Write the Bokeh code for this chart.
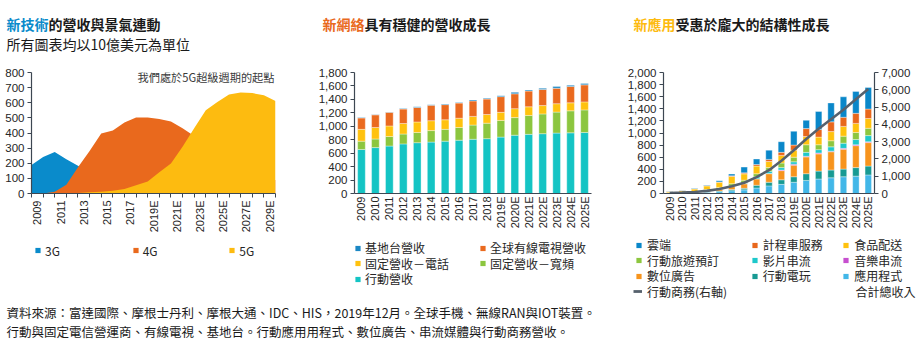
import math
from bokeh.plotting import figure
from bokeh.models import (Range1d, LinearAxis, FixedTicker, Label, Legend, LegendItem,
                          ColumnDataSource, FactorRange, NumeralTickFormatter)
from bokeh.layouts import column, row
from bokeh.embed import file_html
from bokeh.resources import INLINE

CJK = "Noto Sans CJK TC"
NUM = "Liberation Sans"
AXIS_C = "#3d4752"
TXT_C = "#262626"

# ---------------- data: left chart (technology cycles) ----------------
tech_years = list(range(2009, 2030))
tech_tick_years = tech_years[::2]
tech_tick_labels = {y: (str(y) + ("E" if y >= 2019 else "")) for y in tech_tick_years}
# values at the category boundaries (area vertices)
tech_edges = [y - 0.5 for y in tech_years] + [tech_years[-1] + 0.5]
rev_3g = [188, 242, 275, 227, 184, 140, 100, 70, 50, 30, 20, 10, 5, 0, 0, 0, 0, 0, 0, 0, 0, 0]
rev_4g = [0, 0, 11, 58, 173, 281, 396, 417, 469, 502, 502, 493, 476, 432, 380, 320, 260, 210, 170, 140, 110, 90]
rev_5g = [0, 0, 0, 2, 4, 8, 12, 18, 30, 54, 80, 141, 199, 309, 432, 551, 605, 655, 668, 664, 649, 612]

# ---------------- data: middle chart (networks) ----------------
net_years = ["2009", "2010", "2011", "2012", "2013", "2014", "2015", "2016", "2017", "2018",
             "2019E", "2020E", "2021E", "2022E", "2023E", "2024E", "2025E"]
net_mobile = [655, 683, 706, 738, 756, 765, 779, 793, 807, 816, 839, 867, 880, 890, 899, 903, 908]
net_broadband = [124, 128, 142, 147, 152, 171, 175, 189, 211, 230, 248, 262, 281, 294, 312, 327, 336]
net_phone = [175, 171, 157, 156, 156, 147, 143, 138, 129, 129, 120, 133, 129, 124, 125, 119, 119]
net_cable = [170, 188, 202, 216, 216, 230, 225, 225, 230, 230, 234, 221, 234, 239, 229, 244, 253]
net_tower = [6, 6, 6, 6, 12, 8, 8, 10, 14, 12, 14, 22, 14, 18, 25, 18, 22]

# ---------------- data: right chart (applications) ----------------
app_years = net_years
app_apps = [5, 8, 12, 20, 30, 45, 60, 91, 126, 151, 186, 216, 240, 260, 277, 287, 307]
app_games = [2, 3, 5, 8, 12, 20, 26, 45, 60, 76, 91, 111, 130, 128, 126, 141, 146]
app_ads = [5, 8, 12, 20, 30, 50, 75, 106, 141, 151, 192, 278, 285, 302, 328, 363, 388]
app_music = [0, 0, 0, 1, 1, 2, 3, 3, 4, 10, 15, 10, 15, 10, 15, 15, 15]
app_video = [0, 0, 1, 2, 3, 5, 5, 32, 37, 40, 40, 65, 55, 71, 86, 86, 101]
app_travel = [2, 3, 5, 15, 25, 40, 51, 50, 60, 76, 76, 126, 81, 101, 116, 116, 121]
app_food = [20, 25, 40, 60, 85, 120, 105, 126, 101, 126, 115, 136, 126, 151, 161, 151, 161]
app_taxi = [3, 4, 5, 5, 6, 10, 16, 26, 35, 50, 86, 131, 126, 161, 151, 166, 157]
app_cloud = [3, 4, 5, 10, 20, 30, 95, 91, 152, 176, 227, 136, 298, 313, 338, 363, 358]
app_commerce = [30, 50, 90, 150, 260, 420, 620, 950, 1350, 1900, 2500, 3150, 3750, 4300, 4850, 5450, 6050]

C3G, C4G, C5G = "#0a8bcb", "#e9691d", "#fdbb10"
net_colors = ["#14c4c4", "#8cc63f", "#ffc20e", "#ea6a1f", "#1b87c4"]
app_colors = ["#42b7e8", "#179a93", "#f7941d", "#c74fcf", "#1ec8cb", "#8dc63f", "#ffc20e",
              "#e8671c", "#0a87c9"]
LINE_C = "#56616d"

HEAD_H = 56         # header strip height
CHART_BOTTOM = 235  # page y where chart figures end
PAGE_H = 354


def style_axis(ax, size="11.5px", tick_out=4):
    ax.axis_line_color = AXIS_C
    ax.axis_line_width = 1.2
    ax.major_tick_line_color = AXIS_C
    ax.major_tick_in = 0
    ax.major_tick_out = tick_out
    ax.minor_tick_line_color = None
    ax.major_label_text_font = NUM
    ax.major_label_text_font_size = size
    ax.major_label_text_color = TXT_C
    ax.major_label_standoff = 3


def chart_fig(width, x_range, y_range, bl, br, frame_top, frame_bottom):
    p = figure(width=width, height=CHART_BOTTOM - HEAD_H, x_range=x_range, y_range=y_range,
               output_backend="svg", toolbar_location=None, title=None,
               min_border_left=bl, min_border_right=br,
               min_border_top=frame_top - HEAD_H, min_border_bottom=CHART_BOTTOM - frame_bottom)
    p.outline_line_color = None
    p.grid.visible = False
    return p


def blank_fig(width, height):
    p = figure(width=width, height=height, x_range=Range1d(0, 1), y_range=Range1d(0, 1),
               x_axis_type=None, y_axis_type=None, output_backend="svg",
               toolbar_location=None, title=None, min_border=0)
    p.outline_line_color = None
    return p


# ================= header (titles) =================
ph = blank_fig(920, HEAD_H)


def add_title(px, colored, rest, color, yc=23, size=14):
    ph.add_layout(Label(x=px, y=HEAD_H - yc, x_units="screen", y_units="screen", text=colored,
                        text_font=CJK, text_font_size=f"{size}px", text_font_style="bold",
                        text_color=color, text_baseline="middle"))
    ph.add_layout(Label(x=px + size * len(colored), y=HEAD_H - yc, x_units="screen",
                        y_units="screen", text=rest, text_font=CJK, text_font_size=f"{size}px",
                        text_font_style="bold", text_color="#1a1a1a", text_baseline="middle"))


add_title(6, "新技術", "的營收與景氣連動", C3G)
add_title(322, "新網絡", "具有穩健的營收成長", C4G)
add_title(633, "新應用", "受惠於龐大的結構性成長", C5G)
ph.add_layout(Label(x=6, y=HEAD_H - 43.5, x_units="screen", y_units="screen",
                    text="所有圖表均以10億美元為單位", text_font=CJK, text_font_size="14px",
                    text_color="#1a1a1a", text_baseline="middle"))

# ================= left chart =================
FB1 = 196
p1 = chart_fig(310, Range1d(2008.5, 2029.5), Range1d(0, 800), 31, 35, 72, FB1)
p1.varea(x=tech_edges, y1=0, y2=rev_3g, fill_color=C3G)
p1.varea(x=tech_edges, y1=0, y2=rev_4g, fill_color=C4G)
p1.varea(x=tech_edges, y1=0, y2=rev_5g, fill_color=C5G)
p1.yaxis.ticker = FixedTicker(ticks=list(range(0, 801, 100)))
p1.xaxis.ticker = FixedTicker(ticks=tech_tick_years, minor_ticks=tech_edges)
p1.xaxis.major_label_overrides = tech_tick_labels
style_axis(p1.yaxis[0])
style_axis(p1.xaxis[0], size="11px", tick_out=0)
p1.xaxis.minor_tick_line_color = AXIS_C
p1.xaxis.minor_tick_in = 0
p1.xaxis.minor_tick_out = 4
p1.xaxis.major_label_orientation = math.pi / 2
p1.add_layout(Label(x=137 - 31, y=FB1 - 79.5, x_units="screen", y_units="screen",
                    text="我們處於5G超級週期的起點", text_font=CJK, text_font_size="11.2px",
                    text_color="#3a3a3a", text_baseline="middle"))

# ================= middle chart =================
FB2 = 196
net_src = ColumnDataSource(dict(year=net_years, mobile=net_mobile, broadband=net_broadband,
                                phone=net_phone, cable=net_cable, tower=net_tower))
net_keys = ["mobile", "broadband", "phone", "cable", "tower"]
p2 = chart_fig(310, FactorRange(factors=net_years), Range1d(0, 1800), 44, 29, 63, FB2)
p2.vbar_stack(net_keys, x="year", width=0.55, color=net_colors, source=net_src,
              line_color="white", line_alpha=0.45, line_width=0.8)
p2.yaxis.ticker = FixedTicker(ticks=list(range(0, 1801, 200)))
p2.yaxis.formatter = NumeralTickFormatter(format="0,0")
style_axis(p2.yaxis[0])
style_axis(p2.xaxis[0], size="11px", tick_out=0)
p2.xaxis.major_label_overrides = {y: " " for y in net_years[1::2]}
p2.xaxis.major_label_orientation = math.pi / 2

# ================= right chart =================
FB3 = 195
app_src = ColumnDataSource(dict(year=app_years, apps=app_apps, games=app_games, ads=app_ads,
                                music=app_music, video=app_video, travel=app_travel,
                                food=app_food, taxi=app_taxi, cloud=app_cloud,
                                commerce=app_commerce))
app_keys = ["apps", "games", "ads", "music", "video", "travel", "food", "taxi", "cloud"]
p3 = chart_fig(300, FactorRange(factors=app_years), Range1d(0, 2000), 43, 46, 63, FB3)
p3.extra_y_ranges = {"r": Range1d(0, 7000)}
p3.vbar_stack(app_keys, x="year", width=0.52, color=app_colors, source=app_src,
              line_color="white", line_alpha=0.45, line_width=0.8)
p3.line(x="year", y="commerce", source=app_src, y_range_name="r",
        line_color=LINE_C, line_width=2.6)
p3.yaxis.ticker = FixedTicker(ticks=list(range(0, 2001, 200)))
p3.yaxis.formatter = NumeralTickFormatter(format="0,0")
style_axis(p3.yaxis[0])
ax_r = LinearAxis(y_range_name="r", ticker=FixedTicker(ticks=list(range(0, 7001, 1000))),
                  formatter=NumeralTickFormatter(format="0,0"))
style_axis(ax_r)
p3.add_layout(ax_r, "right")
style_axis(p3.xaxis[0], size="11px", tick_out=0)
p3.xaxis.major_label_overrides = {y: " " for y in app_years[1::2]}
p3.xaxis.major_label_orientation = math.pi / 2

# ================= legends + footnote strip =================
LEG_H = PAGE_H - CHART_BOTTOM
pl = blank_fig(920, LEG_H)


def add_item(renderer, label, px0, yc, gw=13, gh=20, standoff=1):
    leg = Legend(items=[LegendItem(label=label, renderers=[renderer])],
                 location=(px0, PAGE_H - (yc + gh / 2)), orientation="vertical",
                 glyph_width=gw, glyph_height=gh, label_height=gh, label_width=10,
                 label_standoff=standoff, padding=0, margin=0, spacing=0,
                 border_line_color=None, background_fill_alpha=0,
                 label_text_font=CJK, label_text_font_size="12px", label_text_color=TXT_C)
    pl.add_layout(leg)


# legend proxies: one point each, placed outside the strip's visible range
def square_item(color, label, sq_cx, yc, standoff=1):
    d = pl.scatter(x=[-1], y=[-1], marker="square", fill_color=color, line_color=None)
    add_item(d, label, sq_cx - 6.5, yc, standoff=standoff)


for name, col, sqx in [("3G", C3G, 37.5), ("4G", C4G, 135.2), ("5G", C5G, 231.8)]:
    square_item(col, name, sqx, 250)

net_leg = [("基地台營收", 4, 357.5, 247.5), ("全球有線電視營收", 3, 482.5, 247.5),
           ("固定營收－電話", 2, 357.5, 263), ("固定營收－寬頻", 1, 482.5, 263),
           ("行動營收", 0, 357.5, 278.5)]
for name, idx, sqx, yc in net_leg:
    square_item(net_colors[idx], name, sqx, yc)

rows_y = [244.5, 260, 275.5, 291]
cols_x = [638.5, 754.2, 845.8]
app_leg = [("雲端", 8, 0, 0), ("計程車服務", 7, 1, 0), ("食品配送", 6, 2, 0),
           ("行動旅遊預訂", 5, 0, 1), ("影片串流", 4, 1, 1), ("音樂串流", 3, 2, 1),
           ("數位廣告", 2, 0, 2), ("行動電玩", 1, 1, 2), ("應用程式", 0, 2, 2)]
for name, idx, ci, ri in app_leg:
    square_item(app_colors[idx], name, cols_x[ci], rows_y[ri], standoff=2)
dl = pl.line(x=[-2, -1], y=[-1, -1], line_color=LINE_C, line_width=2.8)
add_item(dl, "行動商務(右軸)", 633, rows_y[3], gw=9, standoff=5)
pl.add_layout(Label(x=855, y=PAGE_H - rows_y[3], x_units="screen", y_units="screen",
                    text="合計總收入", text_font=CJK, text_font_size="12px",
                    text_color=TXT_C, text_baseline="middle"))

notes = ["資料來源：富達國際、摩根士丹利、摩根大通、IDC、HIS，2019年12月。全球手機、無線RAN與IOT裝置。",
         "行動與固定電信營運商、有線電視、基地台。行動應用用程式、數位廣告、串流媒體與行動商務營收。"]
for txt, yc in zip(notes, [312, 331]):
    pl.add_layout(Label(x=6, y=PAGE_H - yc, x_units="screen", y_units="screen", text=txt,
                        text_font=CJK, text_font_size="12.5px", text_color="#1a1a1a",
                        text_baseline="middle"))

layout = column(ph, row(p1, p2, p3), pl)
open("out.html", "w").write(file_html(layout, INLINE))
